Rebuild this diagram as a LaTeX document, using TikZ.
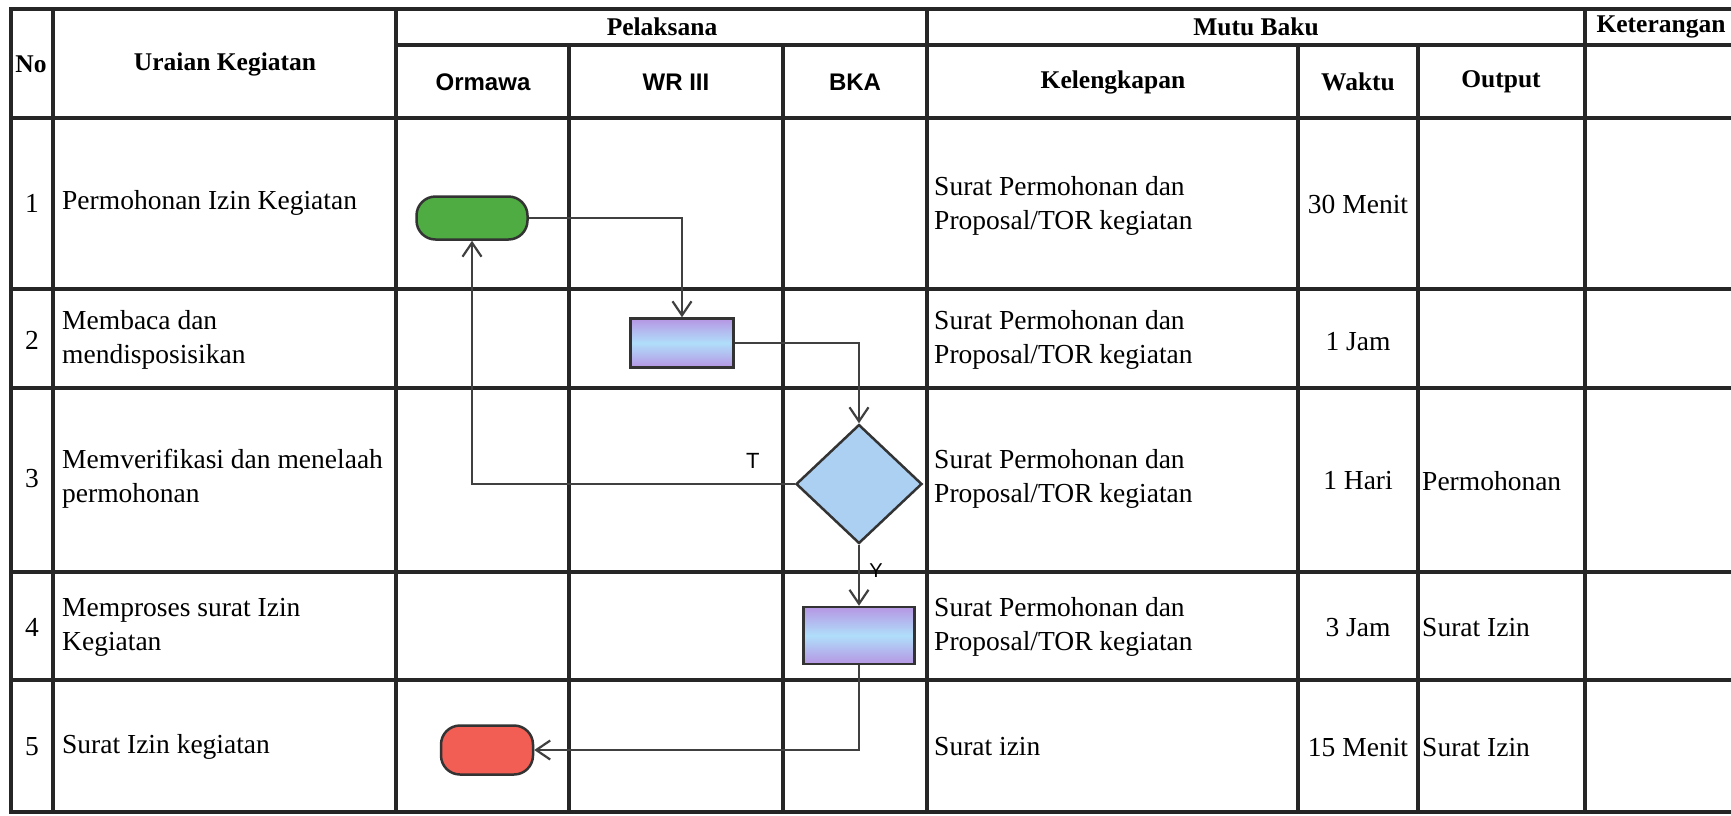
\documentclass[tikz,border=0pt]{standalone}
\usepackage{fontspec}
\setmainfont{Liberation Serif}
\setsansfont{Liberation Sans}
\usepackage{xcolor}
\usetikzlibrary{calc}
\usetikzlibrary{positioning}
\usetikzlibrary{shapes.geometric}
\usetikzlibrary{arrows.meta}
\definecolor{startgreen}{RGB}{78,172,66}
\definecolor{endred}{RGB}{243,94,84}
\definecolor{procblue}{RGB}{176,222,250}
\definecolor{procpurple}{RGB}{182,150,228}
\definecolor{decblue}{RGB}{172,208,242}

\begin{document}
\begin{tikzpicture}[x=1pt, y=-1pt, >={Straight Barb[length=14pt, width=19pt]}, draw=black!80, font=\fontsize{27.5}{34}\selectfont]
    \tikzstyle{tableline}=[line width=4.5pt, draw=black!85, line cap=rect]
    \tikzstyle{flow}=[->, line width=2.2pt, draw=black!75]
    \tikzstyle{terminal}=[draw=black!80, line width=2.5pt, rectangle, rounded corners=19pt, inner sep=0pt]
    \tikzstyle{process}=[draw=black!80, line width=2.5pt, rectangle, inner sep=0pt, top color=procpurple, bottom color=procpurple, middle color=procblue]
    \tikzstyle{decision}=[draw=black!80, line width=2.5pt, diamond, fill=decblue, inner sep=0pt, minimum width=126pt, minimum height=119pt]
    \tikzstyle{hdr}=[font=\fontsize{25.5}{30}\selectfont\bfseries]
    \tikzstyle{lane}=[font=\fontsize{24}{28}\selectfont\sffamily\bfseries]
    \tikzstyle{cell}=[anchor=west, align=left, inner sep=4pt]
    \tikzstyle{annot}=[font=\fontsize{22}{26}\selectfont\sffamily, inner sep=0pt]

    \useasboundingbox (0,0) rectangle (1731,815);
    \clip (0,0) rectangle (1731,815);

    %% Table
    \draw[tableline] (1745,9) -- (11,9) -- (11,812) -- (1745,812);
    \draw[tableline] (396,45) -- (1745,45);
    \foreach \y in {118,289,388,572,680}
        \draw[tableline] (11,\y) -- (1745,\y);
    \foreach \x in {53,396,927,1585}
        \draw[tableline] (\x,9) -- (\x,812);
    \foreach \x in {569,783,1298,1418}
        \draw[tableline] (\x,45) -- (\x,812);

    %% Headers
    \node[hdr] (no) at (31,64) {No};
    \node[hdr] (uraian) at (225,64) {Uraian Kegiatan};
    \node[hdr] (pelaksana) at (662,27) {Pelaksana};
    \node[lane] (ormawa) at (483,82) {Ormawa};
    \node[lane] (wr) at (676,82) {WR III};
    \node[lane] (bka) at (855,82) {BKA};
    \node[hdr] (mutu) at (1256,27) {Mutu Baku};
    \node[hdr] (kelengkapan) at (1113,82) {Kelengkapan};
    \node[hdr] (waktu) at (1358,82) {Waktu};
    \node[hdr] (output) at (1501,82) {Output};
    \node[hdr] (keterangan) at (1661,27) {Keterangan};

    %% Rows
    \node (n1) at (32,203) {1};
    \node (n2) at (32,340) {2};
    \node (n3) at (32,479) {3};
    \node (n4) at (32,627) {4};
    \node (n5) at (32,747) {5};

    \node[cell] (u1) at (58,203) {Permohonan Izin Kegiatan};
    \node[cell] (u2) at (58,340) {Membaca dan\\mendisposisikan};
    \node[cell] (u3) at (58,479) {Memverifikasi dan menelaah\\permohonan};
    \node[cell] (u4) at (58,627) {Memproses surat Izin\\Kegiatan};
    \node[cell] (u5) at (58,747) {Surat Izin kegiatan};

    \node[cell] (k1) at (930,206) {Surat Permohonan dan\\Proposal/TOR kegiatan};
    \node[cell] (k2) at (930,340) {Surat Permohonan dan\\Proposal/TOR kegiatan};
    \node[cell] (k3) at (930,479) {Surat Permohonan dan\\Proposal/TOR kegiatan};
    \node[cell] (k4) at (930,627) {Surat Permohonan dan\\Proposal/TOR kegiatan};
    \node[cell] (k5) at (930,747) {Surat izin};

    \node (w1) at (1358,204) {30 Menit};
    \node (w2) at (1358,342) {1 Jam};
    \node (w3) at (1358,481) {1 Hari};
    \node (w4) at (1358,628) {3 Jam};
    \node (w5) at (1358,748) {15 Menit};

    \node[cell] (o3) at (1418,481) {Permohonan};
    \node[cell] (o4) at (1418,628) {Surat Izin};
    \node[cell] (o5) at (1418,748) {Surat Izin};

    %% Flow
    \node[terminal, fill=startgreen, minimum width=111pt, minimum height=43pt] (start) at (472,218) {};
    \node[process, minimum width=103pt, minimum height=49pt] (disp) at (682,343) {};
    \node[decision] (verif) at (859,484) {};
    \node[process, below=61pt of verif, minimum width=111pt, minimum height=57pt] (proses) {};
    \node[terminal, fill=endred, minimum width=92pt, minimum height=49pt] (finish) at (487,750) {};

    \draw[flow] (start.east) -| (disp.north);
    \draw[flow] (disp.east) -| (verif.north);
    \draw[flow] (verif.west) -| (start.south);
    \draw[flow] (verif.south) -- (proses.north);
    \draw[flow] (proses.south) |- (finish.east);

    \node[annot] (tno) at ($(verif.west)+(-42,-23)$) {T};
    \node[annot, font=\fontsize{20}{24}\selectfont\sffamily] (tyes) at ($(verif.south)+(17,26)$) {Y};
\end{tikzpicture}
\end{document}
